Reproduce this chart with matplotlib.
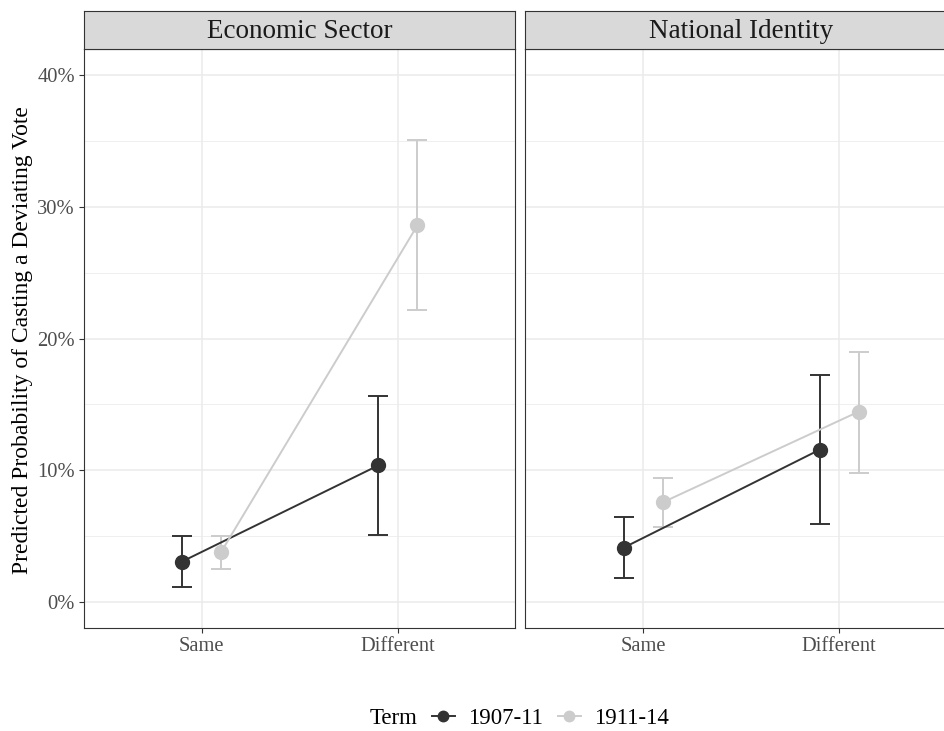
import matplotlib
matplotlib.use("Agg")
import matplotlib.pyplot as plt
from matplotlib.lines import Line2D
from matplotlib.ticker import FuncFormatter, MultipleLocator
import numpy as np

plt.rcParams['font.family'] = ['Liberation Serif', 'DejaVu Serif']

facets = ["Economic Sector", "National Identity"]
categories = ["Same", "Different"]
terms = ["1907-11", "1911-14"]
term_colors = ["#333333", "#CCCCCC"]

# predicted probabilities (%) with 95% intervals: [facet][term][category]
estimate = {
    "Economic Sector": {"1907-11": [3.05, 10.35], "1911-14": [3.8, 28.6]},
    "National Identity": {"1907-11": [4.1, 11.55], "1911-14": [7.55, 14.45]},
}
lower = {
    "Economic Sector": {"1907-11": [1.1, 5.1], "1911-14": [2.5, 22.15]},
    "National Identity": {"1907-11": [1.8, 5.9], "1911-14": [5.7, 9.8]},
}
upper = {
    "Economic Sector": {"1907-11": [5.0, 15.6], "1911-14": [5.0, 35.05]},
    "National Identity": {"1907-11": [6.4, 17.25], "1911-14": [9.4, 19.0]},
}
dodge = {"1907-11": -0.1, "1911-14": 0.1}

W, H = 945, 731
fig = plt.figure(figsize=(W / 100, H / 100), dpi=100)

# the second panel runs past the right edge of the canvas
panels = [(84, 515.5), (525.5, 957)]
ptop, pbot = 49, 628
strip_top = 11

def fx(px):
    return px / W

def fy(py):
    return 1 - py / H

grid_c = "#EBEBEB"
axes = []
for i, (facet, (x0, x1)) in enumerate(zip(facets, panels)):
    ax = fig.add_axes([fx(x0), fy(pbot), fx(x1 - x0), fy(ptop) - fy(pbot)])
    axes.append(ax)
    ax.set_xlim(0.4, 2.6)
    ax.set_ylim(-2, 42)
    ax.yaxis.set_major_locator(MultipleLocator(10))
    ax.yaxis.set_minor_locator(MultipleLocator(5))
    ax.set_xticks([1, 2])
    ax.set_xticklabels(categories)
    ax.grid(which="major", color=grid_c, lw=1.1, zorder=0)
    ax.grid(which="minor", axis="y", color=grid_c, lw=0.55, zorder=0)
    ax.set_axisbelow(True)
    for s in ax.spines.values():
        s.set_color("#333333")
        s.set_linewidth(0.8)
    ax.tick_params(axis="both", which="major", length=3.5, width=0.8, color="#333333",
                   labelsize=14.8, labelcolor="#4D4D4D", pad=3)
    ax.tick_params(axis="y", which="minor", length=0)
    if i == 0:
        ax.yaxis.set_major_formatter(FuncFormatter(lambda v, p: f"{v:.0f}%"))
    else:
        ax.tick_params(axis="y", which="both", left=False, labelleft=False)

    xs = np.arange(1, len(categories) + 1)
    for term, col in zip(terms, term_colors):
        xpos = xs + dodge[term]
        est = np.array(estimate[facet][term])
        lo = np.array(lower[facet][term])
        hi = np.array(upper[facet][term])
        ax.errorbar(xpos, est, yerr=[est - lo, hi - est], fmt="none", ecolor=col,
                    elinewidth=1.4, capsize=7.2, capthick=1.4, zorder=3)
        ax.plot(xpos, est, color=col, lw=1.4, zorder=4)
        ax.plot(xpos, est, "o", color=col, ms=10, zorder=5)

    # facet strip
    sax = fig.add_axes([fx(x0), fy(ptop), fx(x1 - x0), fy(strip_top) - fy(ptop)])
    sax.set_facecolor("#D9D9D9")
    sax.set_xticks([])
    sax.set_yticks([])
    for s in sax.spines.values():
        s.set_color("#333333")
        s.set_linewidth(0.8)
    sax.text(0.5, 0.47, facet, ha="center", va="center", fontsize=19.5, color="#1A1A1A",
             transform=sax.transAxes)

fig.text(fx(23), fy(340), "Predicted Probability of Casting a Deviating Vote",
         rotation=90, ha="center", va="center", fontsize=17, color="black")

# legend along the bottom
fig.text(fx(418), fy(718), "Term", ha="right", va="center", fontsize=16.5)
handles = [Line2D([0], [0], color=c, lw=1.4, marker="o", ms=7.5) for c in term_colors]
fig.legend(handles, terms, loc="center left", bbox_to_anchor=(fx(432), fy(718)), ncol=2,
           frameon=False, fontsize=16.5, handlelength=1.0, handletextpad=0.57,
           columnspacing=0.65, borderaxespad=0, borderpad=0)

fig.savefig("out.png", dpi=100)
